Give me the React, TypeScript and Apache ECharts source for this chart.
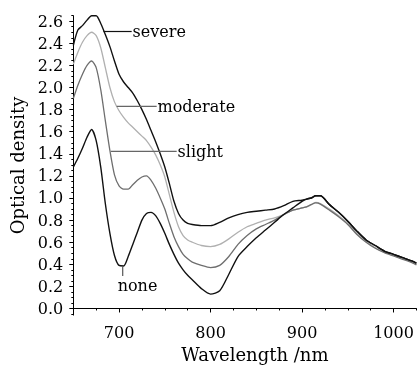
import React, { useEffect, useRef } from 'react';
import * as echarts from 'echarts';

const FONT = '"DejaVu Serif", serif';

const wavelengths = [650, 655, 660, 665, 670, 675, 680, 685, 690, 695, 700, 705, 710, 715, 720, 725, 730, 735, 740, 745, 750, 755, 760, 765, 770, 775, 780, 790, 800, 810, 820, 830, 840, 850, 860, 870, 880, 890, 900, 905, 910, 915, 920, 930, 940, 950, 960, 970, 980, 990, 1000, 1010, 1020, 1025];

const severe = [2.38, 2.52, 2.56, 2.61, 2.65, 2.65, 2.58, 2.48, 2.37, 2.24, 2.12, 2.05, 2.0, 1.95, 1.88, 1.8, 1.71, 1.61, 1.51, 1.4, 1.28, 1.13, 0.97, 0.86, 0.8, 0.77, 0.76, 0.75, 0.75, 0.78, 0.82, 0.85, 0.87, 0.88, 0.89, 0.9, 0.93, 0.97, 0.98, 0.99, 1.0, 1.02, 1.02, 0.94, 0.87, 0.79, 0.7, 0.62, 0.57, 0.52, 0.49, 0.46, 0.43, 0.41];

const moderate = [2.21, 2.32, 2.41, 2.47, 2.5, 2.47, 2.36, 2.18, 2.0, 1.87, 1.79, 1.73, 1.68, 1.64, 1.6, 1.56, 1.52, 1.46, 1.39, 1.3, 1.19, 1.03, 0.87, 0.74, 0.66, 0.62, 0.6, 0.57, 0.56, 0.58, 0.63, 0.69, 0.74, 0.77, 0.8, 0.82, 0.85, 0.89, 0.91, 0.92, 0.94, 0.96, 0.95, 0.9, 0.84, 0.77, 0.68, 0.61, 0.55, 0.51, 0.48, 0.45, 0.42, 0.4];

const slight = [1.9, 2.02, 2.12, 2.2, 2.24, 2.18, 1.98, 1.7, 1.43, 1.21, 1.11, 1.08, 1.08, 1.12, 1.16, 1.19, 1.2, 1.16, 1.09, 1.0, 0.9, 0.77, 0.65, 0.56, 0.49, 0.45, 0.42, 0.39, 0.37, 0.39, 0.47, 0.58, 0.66, 0.72, 0.76, 0.8, 0.85, 0.89, 0.91, 0.92, 0.94, 0.955, 0.945, 0.89, 0.83, 0.76, 0.67, 0.6, 0.545, 0.505, 0.475, 0.445, 0.415, 0.395];

const none = [1.28, 1.36, 1.45, 1.55, 1.62, 1.52, 1.28, 0.95, 0.68, 0.48, 0.39, 0.385, 0.47, 0.58, 0.69, 0.8, 0.86, 0.87, 0.84, 0.77, 0.68, 0.58, 0.49, 0.41, 0.35, 0.3, 0.26, 0.18, 0.13, 0.16, 0.31, 0.47, 0.56, 0.64, 0.71, 0.78, 0.85, 0.91, 0.97, 0.99, 1.0, 1.02, 1.02, 0.94, 0.87, 0.79, 0.7, 0.62, 0.57, 0.52, 0.49, 0.46, 0.43, 0.41];

const seriesNames = ['severe', 'moderate', 'slight', 'none'];
const seriesColors = ['#111111', '#b0b0b0', '#6e6e6e', '#111111'];

const xMajorTicks = [700, 800, 900, 1000];
const yMajorTicks = [0, 0.2, 0.4, 0.6, 0.8, 1.0, 1.2, 1.4, 1.6, 1.8, 2.0, 2.2, 2.4, 2.6];

const annotationTexts = ['severe', 'moderate', 'slight', 'none'];
const annotationLines = [
  [683, 2.507, 713.8, 2.507],
  [697.4, 1.829, 741.1, 1.829],
  [690.9, 1.422, 763, 1.422],
  [704, 0.383, 704, 0.295],
];
const annotationTextPos = [
  [714.8, 2.507],
  [742.1, 1.829],
  [764, 1.422],
  [698.5, 0.206],
];
const annotationLineColors = ['#111111', '#666666', '#666666', '#555555'];

export default function App() {
  const ref = useRef<HTMLDivElement>(null);
  useEffect(() => {
    const chart = echarts.init(ref.current!, null, { renderer: 'svg' });
    const xMinor: number[] = [];
    for (let v = 650; v <= 1025; v += 25) xMinor.push(v);
    const yMinor: number[] = [];
    for (let i = -1; i <= 53; i++) yMinor.push(Math.round(i * 5) / 100);
    const allSeries = [severe, moderate, slight, none];
    const option: any = {
      animation: false,
      grid: { left: 73.3, right: 1.6, top: 15.7, bottom: 46.3 },
      xAxis: [
        {
          type: 'value', min: 650, max: 1025,
          axisLine: { show: true, lineStyle: { color: '#000', width: 1 } },
          axisTick: { show: true, length: 4, customValues: xMajorTicks, lineStyle: { color: '#000' } },
          axisLabel: { customValues: xMajorTicks, margin: 9, fontFamily: FONT, fontSize: 16, color: '#000', formatter: (v: number) => String(v) },
          splitLine: { show: false },
          name: 'Wavelength /nm', nameLocation: 'middle', nameGap: 25,
          nameTextStyle: { fontFamily: FONT, fontSize: 18, color: '#000', padding: [0, 0, 0, 20] },
        },
        {
          type: 'value', min: 650, max: 1025, position: 'bottom',
          axisLine: { show: false },
          axisTick: { show: true, length: 2, customValues: xMinor, lineStyle: { color: '#000' } },
          axisLabel: { show: false },
          splitLine: { show: false },
        },
      ],
      yAxis: [
        {
          type: 'value', min: -0.06, max: 2.65,
          axisLine: { show: true, lineStyle: { color: '#000', width: 1 } },
          axisTick: { show: true, length: 4, customValues: yMajorTicks, lineStyle: { color: '#000' } },
          axisLabel: { customValues: yMajorTicks, margin: 10, fontFamily: FONT, fontSize: 16, color: '#000', formatter: (v: number) => v.toFixed(1) },
          splitLine: { show: false },
          name: 'Optical density', nameLocation: 'middle', nameGap: 44,
          nameTextStyle: { fontFamily: FONT, fontSize: 18, color: '#000' },
        },
        {
          type: 'value', min: -0.06, max: 2.65, position: 'left',
          axisLine: { show: false },
          axisTick: { show: true, length: 2, customValues: yMinor, lineStyle: { color: '#000' } },
          axisLabel: { show: false },
          splitLine: { show: false },
        },
      ],
      series: allSeries.map((ys, k) => ({
        name: seriesNames[k],
        type: 'line',
        xAxisIndex: 0,
        yAxisIndex: 0,
        data: wavelengths.map((w, i) => [w, ys[i]]),
        showSymbol: false,
        smooth: 0.25,
        lineStyle: { color: seriesColors[k], width: k === 0 || k === 3 ? 1.4 : 1.3 },
        z: k === 0 || k === 3 ? 3 : 2,
      })),
    };
    chart.setOption(option);
    const px = (x: number, y: number) => chart.convertToPixel({ gridIndex: 0 }, [x, y]) as number[];
    const graphics: any[] = [];
    annotationTexts.forEach((t, i) => {
      const [x1, y1, x2, y2] = annotationLines[i];
      const a = px(x1, y1);
      const b = px(x2, y2);
      graphics.push({
        type: 'line',
        shape: { x1: a[0], y1: a[1], x2: b[0], y2: b[1] },
        style: { stroke: annotationLineColors[i], lineWidth: 1.2 },
        z: 10,
      });
      const tp = px(annotationTextPos[i][0], annotationTextPos[i][1]);
      graphics.push({
        type: 'text',
        x: tp[0], y: tp[1],
        style: { text: t, fontFamily: FONT, fontSize: 16, fill: '#000', align: 'left', verticalAlign: 'middle' },
        z: 10,
      });
    });
    chart.setOption({ graphic: graphics });
    return () => chart.dispose();
  }, []);
  return <div ref={ref} style={{ position: 'fixed', left: 0, top: 0, width: 418, height: 368 }} />;
}
